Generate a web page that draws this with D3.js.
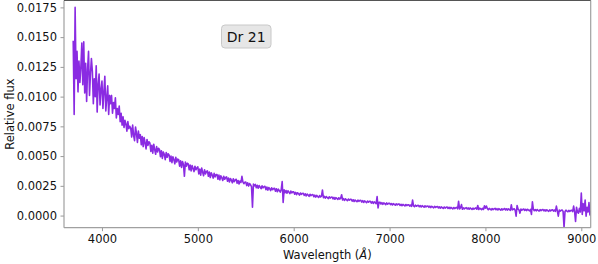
<!DOCTYPE html>
<html>
<head>
<meta charset="utf-8">
<script src="https://cdn.jsdelivr.net/npm/d3@7"></script>
<style>
  body { margin: 0; background: #fff; }
  text { font-family: "DejaVu Sans", sans-serif; }
</style>
</head>
<body>
<div id="chart"></div>
<script>
// spectrum sampled every 10 A from 3700 A, flux in units of 1e-5
const waveStart = 3700;
const waveStep = 10;
const flux = [
  1470, 850, 1750, 1150, 1380, 1040, 1300, 1120, 1250, 1450, // 3700
  1100, 1460, 1030, 1280, 960, 1230, 1380, 1010, 1190, 1320, // 3800
  1210, 940, 1150, 1000, 1260, 870, 1100, 1190, 930, 1060, // 3900
  1130, 900, 1040, 1170, 880, 990, 1090, 850, 1010, 940, // 4000
  1010, 860, 950, 900, 990, 820, 900, 850, 920, 790, // 4100
  860, 760, 830, 740, 800, 770, 710, 790, 730, 750, // 4200
  735, 660, 760, 675, 630, 745, 690, 615, 710, 650, // 4300
  680, 595, 665, 580, 655, 610, 560, 640, 590, 620, // 4400
  610, 540, 590, 525, 600, 555, 515, 580, 535, 565, // 4500
  555, 495, 545, 480, 535, 515, 470, 530, 490, 520, // 4600
  510, 455, 500, 445, 495, 470, 435, 490, 450, 475, // 4700
  470, 415, 460, 405, 455, 430, 330, 450, 415, 440, // 4800
  435, 385, 425, 375, 420, 395, 370, 415, 385, 400, // 4900
  410, 350, 390, 340, 400, 365, 335, 385, 350, 370, // 5000
  375, 330, 365, 320, 360, 340, 315, 355, 325, 345, // 5100
  345, 305, 340, 300, 335, 318, 295, 330, 305, 320, // 5200
  325, 288, 315, 282, 312, 298, 275, 310, 285, 300, // 5300
  305, 272, 295, 265, 290, 278, 330, 283, 268, 280, // 5400
  282, 252, 275, 248, 270, 258, 244, 70, 265, 250, // 5500
  262, 234, 255, 230, 252, 240, 226, 250, 233, 242, // 5600
  246, 218, 240, 214, 236, 225, 210, 234, 217, 228, // 5700
  230, 204, 225, 200, 222, 210, 197, 219, 285, 110, // 5800
  216, 192, 211, 188, 208, 197, 184, 206, 190, 200, // 5900
  200, 180, 195, 176, 192, 184, 172, 190, 178, 186, // 6000
  188, 170, 183, 165, 181, 172, 162, 179, 167, 175, // 6100
  176, 158, 172, 155, 170, 161, 152, 168, 156, 164, // 6200
  215, 150, 162, 146, 160, 152, 143, 158, 147, 154, // 6300
  156, 140, 153, 137, 151, 143, 135, 150, 139, 146, // 6400
  175, 131, 143, 127, 141, 133, 125, 139, 129, 136, // 6500
  136, 121, 133, 118, 131, 124, 116, 130, 120, 127, // 6600
  128, 113, 125, 110, 123, 116, 108, 122, 112, 119, // 6700
  120, 105, 117, 102, 115, 108, 100, 160, 65, 111, // 6800
  112, 97, 109, 94, 107, 100, 92, 106, 96, 103, // 6900
  104, 92, 101, 89, 100, 94, 87, 99, 90, 96, // 7000
  97, 85, 95, 83, 94, 88, 81, 93, 84, 90, // 7100
  91, 79, 89, 77, 130, 82, 75, 87, 78, 84, // 7200
  86, 74, 84, 72, 83, 77, 70, 82, 73, 79, // 7300
  81, 69, 79, 67, 78, 72, 65, 77, 68, 74, // 7400
  76, 64, 74, 62, 73, 67, 60, 72, 63, 69, // 7500
  72, 60, 70, 58, 69, 63, 56, 68, 59, 65, // 7600
  69, 57, 120, 55, 66, 92, 53, 65, 56, 62, // 7700
  67, 55, 64, 53, 64, 58, 51, 63, 54, 60, // 7800
  65, 53, 85, 51, 62, 56, 49, 61, 52, 82, // 7900
  63, 80, 60, 49, 60, 54, 47, 59, 50, 56, // 8000
  61, 49, 58, 47, 58, 52, 45, 57, 48, 54, // 8100
  59, 47, 57, 46, 57, 50, 44, 90, 47, 53, // 8200
  57, 45, -5, 85, 55, 48, 20, 54, 45, 51, // 8300
  55, 43, 53, 42, 53, 46, 40, 52, 10, 115, // 8400
  53, 41, 51, 40, 51, 44, 38, 50, 41, 48, // 8500
  51, 39, 49, 38, 49, 42, 36, 48, 39, 46, // 8600
  49, 37, 47, 36, 80, 40, -5, 46, 37, 44, // 8700
  47, 35, -100, 34, 45, 38, 32, 44, 35, 42, // 8800
  45, 33, 80, 32, -50, 70, 30, 20, 60, 30, // 8900
  190, 10, 100, 40, 130, -5, 70, 30, 110, 5, // 9000
  40 // 9100
];
const xTicks = [4000, 5000, 6000, 7000, 8000, 9000];
const yTicks = [0, 0.0025, 0.005, 0.0075, 0.01, 0.0125, 0.015, 0.0175];
const label = "Dr 21";

const spectrum = flux.map((f, i) => ({ wave: waveStart + i * waveStep, flux: f * 1e-5 }));

const W = 598, H = 264;
const margin = { top: 0.5, right: 7.3, bottom: 36.3, left: 64 };
const width = W - margin.left - margin.right;
const height = H - margin.top - margin.bottom;

const svg = d3.select("#chart").append("svg")
  .attr("width", W).attr("height", H);

const g = svg.append("g")
  .attr("transform", "translate(" + margin.left + "," + margin.top + ")");

const x = d3.scaleLinear().domain([3604, 9098]).range([0, width]);
const y = d3.scaleLinear().domain([-0.00102, 0.01808]).range([height, 0]);

g.append("clipPath").attr("id", "clip")
  .append("rect").attr("width", width).attr("height", height);

const line = d3.line().x((d) => x(d.wave)).y((d) => y(d.flux));

g.append("path")
  .datum(spectrum)
  .attr("clip-path", "url(#clip)")
  .attr("fill", "none")
  .attr("stroke", "#8a2be2")
  .attr("stroke-width", 1.6)
  .attr("stroke-linejoin", "round")
  .attr("d", line);

// axes
const xAxis = g.append("g")
  .attr("transform", "translate(0," + height + ")")
  .call(d3.axisBottom(x).tickValues(xTicks).tickSize(3.5).tickPadding(3.5).tickFormat(d3.format("d")));
const yAxis = g.append("g")
  .call(d3.axisLeft(y).tickValues(yTicks).tickSize(3.5).tickPadding(3.5).tickFormat(d3.format(".4f")));

[xAxis, yAxis].forEach((a) => {
  a.select(".domain").remove();
  a.selectAll(".tick line").attr("stroke", "#999");
  a.selectAll(".tick text")
    .attr("fill", "#111")
    .style("font-size", "11.5px")
    .style("font-family", "DejaVu Sans");
});

// spines
g.append("line").attr("x1", 0).attr("x2", 0).attr("y1", 0).attr("y2", height)
  .attr("stroke", "#a0a0a0").attr("stroke-width", 1.2);
g.append("line").attr("x1", 0).attr("x2", width).attr("y1", height).attr("y2", height)
  .attr("stroke", "#a0a0a0").attr("stroke-width", 1.2);
g.append("line").attr("x1", width).attr("x2", width).attr("y1", 0).attr("y2", height)
  .attr("stroke", "#a0a0a0").attr("stroke-width", 1.2);
g.append("line").attr("x1", 0).attr("x2", width).attr("y1", 0).attr("y2", 0)
  .attr("stroke", "#555").attr("stroke-width", 1.2);

// axis labels
svg.append("text")
  .attr("transform", "translate(10," + (margin.top + height / 2) + ") rotate(-90)")
  .attr("text-anchor", "middle")
  .attr("dy", "0.35em")
  .style("font-size", "11.5px")
  .attr("fill", "#111")
  .text("Relative flux");

const xl = svg.append("text")
  .attr("x", margin.left + width / 2)
  .attr("y", 259)
  .attr("text-anchor", "middle")
  .style("font-size", "11.5px")
  .attr("fill", "#111");
xl.append("tspan").text("Wavelength (");
xl.append("tspan").style("font-style", "italic").text("Å");
xl.append("tspan").text(")");

// label box
const box = svg.append("g").attr("transform", "translate(221.5,25)");
box.append("rect")
  .attr("width", 49.5).attr("height", 23)
  .attr("rx", 3.5)
  .attr("fill", "#e6e6e6")
  .attr("stroke", "#c8c8c8");
box.append("text")
  .attr("x", 24.75).attr("y", 11.5)
  .attr("dy", "0.36em")
  .attr("text-anchor", "middle")
  .style("font-size", "14px")
  .attr("fill", "#111")
  .text(label);
</script>
</body>
</html>
